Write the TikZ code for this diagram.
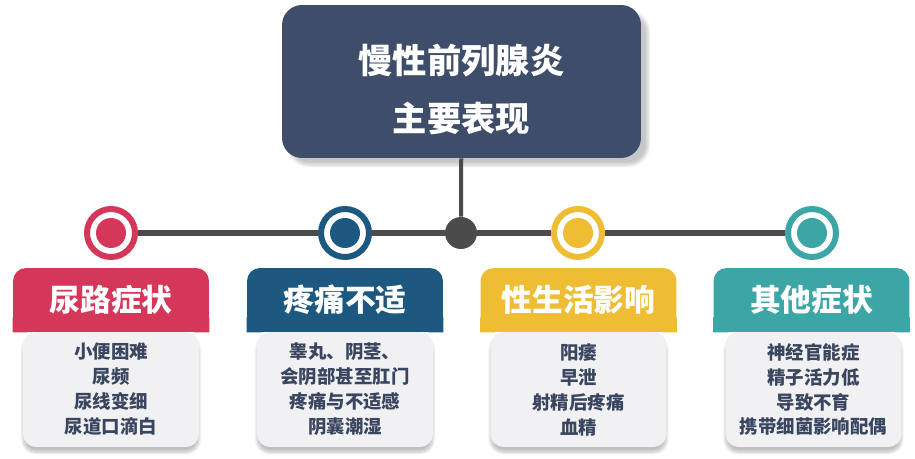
\documentclass[tikz,border=0pt]{standalone}
\usepackage{fontspec}
\usepackage{xcolor}
\usepackage{tikz}
\usetikzlibrary{shadows.blur}

\newfontfamily\cjk{Noto Sans CJK SC}

\definecolor{titlenavy}{HTML}{3E4D69}
\definecolor{hred}{HTML}{D5375A}
\definecolor{hblue}{HTML}{1D5880}
\definecolor{hyellow}{HTML}{EFBD33}
\definecolor{hteal}{HTML}{3CA5A5}
\definecolor{linegray}{HTML}{4B4B4B}
\definecolor{boxgray}{HTML}{F1F1F3}
\definecolor{bodytext}{HTML}{3A4660}

\begin{document}
\begin{tikzpicture}[
  x=0.02cm, y=0.02cm,
  title/.style={rectangle, fill=titlenavy, rounded corners=0.4cm,
                minimum width=7.18cm, minimum height=3.06cm, align=center,
                text=white, font=\cjk\bfseries\fontsize{19.5}{33}\selectfont,
                blur shadow={shadow xshift=4pt, shadow yshift=-4pt,
                             shadow opacity=22, shadow blur steps=6}},
  head/.style={rectangle, fill=#1, rounded corners=0.26cm,
               minimum width=3.92cm, minimum height=1.28cm,
               text=white, font=\cjk\bfseries\fontsize{17.5}{20}\selectfont},
  body/.style={rectangle, fill=boxgray, rounded corners=0.26cm,
               minimum width=3.52cm, minimum height=2.3cm, align=center,
               text=bodytext, font=\cjk\bfseries\fontsize{10.5}{14.2}\selectfont,
               blur shadow={shadow xshift=0pt, shadow yshift=-3pt,
                            shadow opacity=25, shadow blur steps=6}},
  ring/.style={circle, fill=white, draw=#1, line width=0.12cm,
               minimum size=0.96cm, inner sep=0pt},
  hub/.style={circle, fill=linegray, minimum size=0.64cm, inner sep=0pt},
  link/.style={draw=linegray, line width=0.12cm},
  stem/.style={draw=linegray, line width=0.08cm}
]
\useasboundingbox (0,0) rectangle (915,-459);

% Заголовок
\node[title] (top) at (461.5,-81.5) {\rule{0pt}{1.3em}慢性前列腺炎\\主要表现};

% Линия и кружки
\node[hub] (mid) at (461,-233) {};
\node[ring=hred]    (r1) at (111,-233) {};
\node[ring=hblue]   (r2) at (345,-233) {};
\node[ring=hyellow] (r3) at (578,-233) {};
\node[ring=hteal]   (r4) at (812,-233) {};
\fill[hred]    (r1) circle (0.3cm);
\fill[hblue]   (r2) circle (0.3cm);
\fill[hyellow] (r3) circle (0.3cm);
\fill[hteal]   (r4) circle (0.3cm);

\draw[stem] (top) -- (mid);
\draw[link] (r1) -- (r2);
\draw[link] (r2) -- (mid);
\draw[link] (mid) -- (r3);
\draw[link] (r3) -- (r4);

% Списки
\node[body] (b1) at (111,-389.5)   {小便困难\\尿频\\尿线变细\\尿道口滴白};
\node[body] (b2) at (345,-389.5)   {睾丸、阴茎、\\会阴部甚至肛门\\疼痛与不适感\\阴囊潮湿};
\node[body] (b3) at (578.5,-389.5) {阳痿\\早泄\\射精后疼痛\\血精};
\node[body] (b4) at (813.5,-389.5) {神经官能症\\精子活力低\\导致不育\\携带细菌影响配偶};

% Шапки
\node[head=hred]    (h1) at (111,-300)   {尿路症状};
\node[head=hblue]   (h2) at (345,-300)   {疼痛不适};
\node[head=hyellow] (h3) at (578.5,-300) {性生活影响};
\node[head=hteal]   (h4) at (811.5,-300) {其他症状};

% Прямые углы снизу шапок
\fill[hred]    (h1.south west) rectangle ++(0.3cm,0.3cm) (h1.south east) rectangle ++(-0.3cm,0.3cm);
\fill[hblue]   (h2.south west) rectangle ++(0.3cm,0.3cm) (h2.south east) rectangle ++(-0.3cm,0.3cm);
\fill[hyellow] (h3.south west) rectangle ++(0.3cm,0.3cm) (h3.south east) rectangle ++(-0.3cm,0.3cm);
\fill[hteal]   (h4.south west) rectangle ++(0.3cm,0.3cm) (h4.south east) rectangle ++(-0.3cm,0.3cm);

\end{tikzpicture}
\end{document}
